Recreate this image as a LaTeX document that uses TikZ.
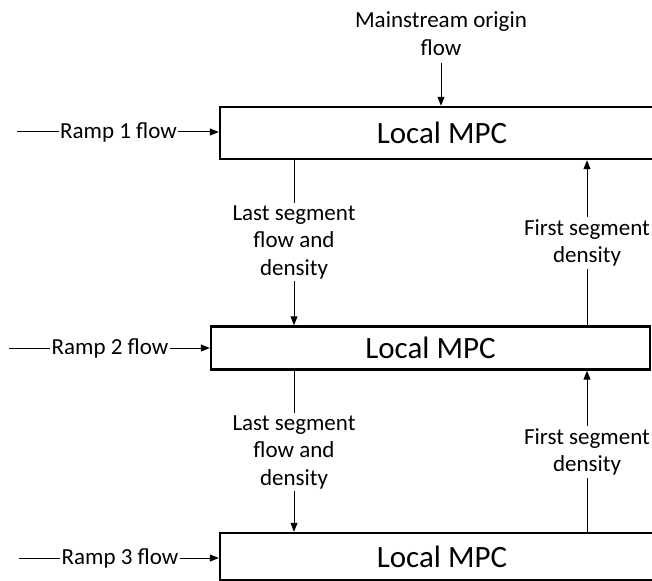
\documentclass[tikz,border=0pt]{standalone}
\usepackage{fontspec}
\setmainfont{Carlito}
\usetikzlibrary{arrows.meta}
\begin{document}
\begin{tikzpicture}[x=1pt,y=-1pt,
  mpc/.style={draw, line width=2.4pt, inner sep=0pt, font=\fontsize{31}{37}\selectfont},
  lbl/.style={align=center, inner sep=2pt, font=\fontsize{23}{27.5}\selectfont},
  ramp/.style={lbl, inner sep=1pt},
  wire/.style={line width=1pt},
  arr/.style={wire, -{Triangle[length=9pt,width=7pt]}}]
\useasboundingbox (0,0) rectangle (652,580);
\clip (0,0) rectangle (652,580);

% controllers
\node[mpc, minimum width=444pt, minimum height=52pt] (m1) at (442,133) {Local MPC};
\node[mpc, minimum width=439pt, minimum height=43pt] (m2) at (430.5,348) {Local MPC};
\node[mpc, minimum width=444pt, minimum height=47pt] (m3) at (442,556.5) {Local MPC};

% mainstream inflow
\node[lbl] (ms) at (441,33.5) {Mainstream origin\\flow};
\draw[arr, shorten <=6pt] (ms.south) -- (ms.south |- m1.north);

% on-ramp inflows
\coordinate (r1s) at (17,132);
\node[ramp] (r1) at (118.5,132) {Ramp 1 flow};
\draw[wire] (r1s) -- (r1.west);
\draw[arr] (r1.east) -- (r1.east -| m1.west);

\coordinate (r2s) at (9,348);
\node[ramp] (r2) at (110,348) {Ramp 2 flow};
\draw[wire] (r2s) -- (r2.west);
\draw[arr] (r2.east) -- (r2.east -| m2.west);

\coordinate (r3s) at (19,558);
\node[ramp] (r3) at (120,558) {Ramp 3 flow};
\draw[wire] (r3s) -- (r3.west);
\draw[arr] (r3.east) -- (r3.east -| m3.west);

% exchanges between neighbouring controllers
\node[lbl] (l1) at (294,242) {Last segment\\flow and\\density};
\node[lbl] (f1) at (587,243) {First segment\\density};
\node[lbl] (l2) at (294,452) {Last segment\\flow and\\density};
\node[lbl] (f2) at (587,452) {First segment\\density};

\draw[wire] (m1.south -| l1) -- (l1.north);
\draw[arr] (l1.south) -- (l1.south |- m2.north);
\draw[wire] (m2.north -| f1) -- (f1.south);
\draw[arr] (f1.north) -- (f1.north |- m1.south);

\draw[wire] (m2.south -| l2) -- (l2.north);
\draw[arr] (l2.south) -- (l2.south |- m3.north);
\draw[wire] (m3.north -| f2) -- (f2.south);
\draw[arr] (f2.north) -- (f2.north |- m2.south);
\end{tikzpicture}
\end{document}
